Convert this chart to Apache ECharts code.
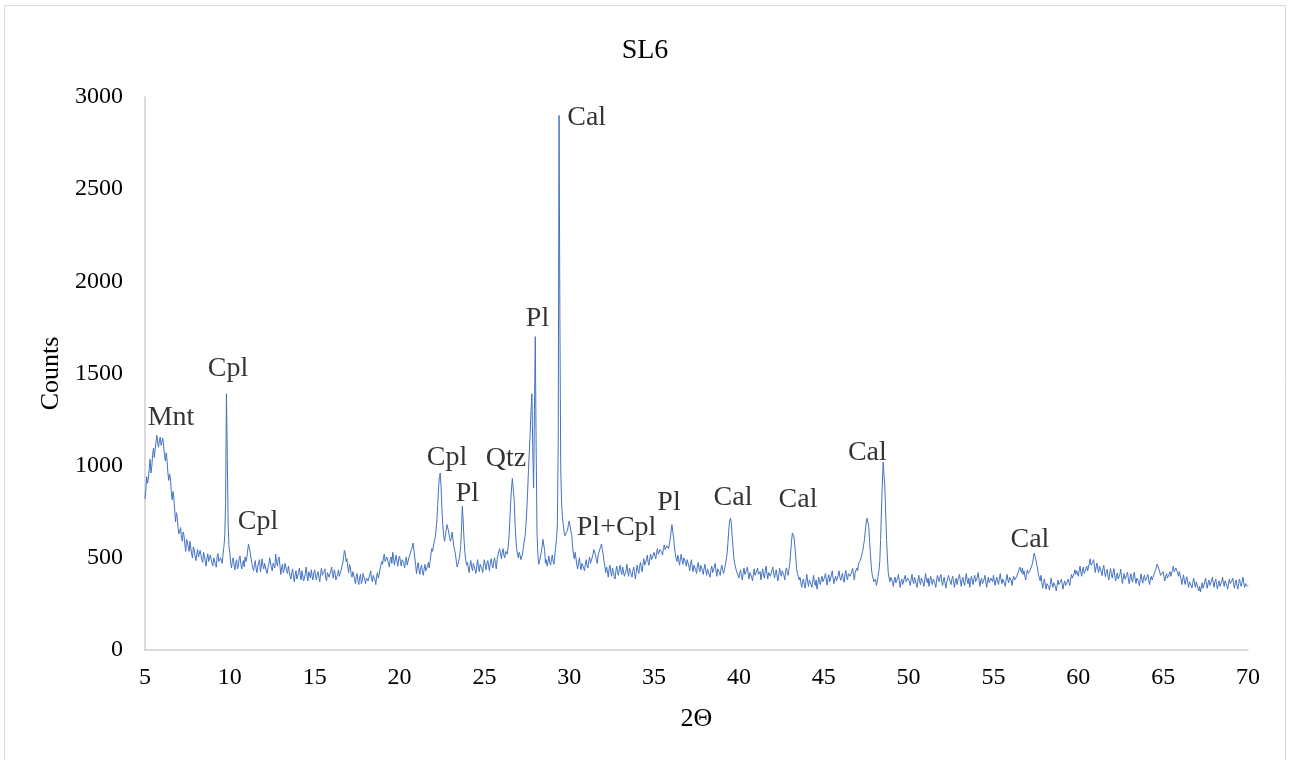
<!DOCTYPE html>
<html>
<head>
<meta charset="utf-8">
<title>SL6</title>
<script src="https://cdn.jsdelivr.net/npm/echarts@6/dist/echarts.min.js"></script>
<style>
  html, body { margin: 0; padding: 0; background: #ffffff; }
  #chart { width: 1290px; height: 760px; }
</style>
</head>
<body>
<div id="chart"></div>
<script>
// XRD scan of sample SL6: counts recorded every 0.05° 2Θ from 5° to 70°.
// Each row below holds ten steps (0.5°).
const angleStart = 5.0;
const angleStep = 0.05;

// 5.00 – 9.95
const counts05 = [
  820, 870, 940, 905, 930, 985, 1035, 960, 995, 1060,
  1095, 1045, 1090, 1130, 1165, 1120, 1100, 1140, 1155, 1110,
  1105, 1150, 1140, 1060, 1025, 1070, 1030, 960, 920, 955,
  930, 860, 815, 860, 825, 760, 695, 745, 720, 660,
  630, 640, 665, 610, 590, 640, 620, 570, 535, 600,
  585, 555, 535, 590, 580, 520, 500, 560, 545, 510,
  485, 520, 545, 505, 500, 540, 545, 490, 475, 530,
  513, 480, 455, 500, 522, 480, 470, 515, 523, 470,
  456, 500, 510, 465, 449, 505, 523, 480, 470, 500,
  510, 470, 520, 560, 620, 800, 1390, 1050, 680, 560
];
// 10.00 – 14.95
const counts10 = [
  530, 470, 445, 485, 500, 460, 435, 475, 490, 440,
  455, 495, 510, 465, 440, 470, 485, 450, 505, 480,
  500, 540, 575, 550, 530, 495, 470, 445, 430, 460,
  485, 440, 420, 455, 475, 490, 425, 450, 495, 460,
  440, 470, 480, 430, 415, 450, 465, 500, 490, 445,
  430, 470, 460, 445, 520, 480, 455, 490, 505, 460,
  410, 445, 465, 420, 435, 470, 480, 430, 415, 455,
  425, 400, 385, 420, 440, 395, 370, 410, 430, 385,
  395, 420, 445, 405, 380, 430, 420, 375, 390, 415,
  450, 400, 375, 425, 415, 390, 435, 400, 380, 420
];
// 15.00 – 19.95
const counts15 = [
  435, 400, 380, 410, 425, 395, 370, 415, 445, 405,
  400, 425, 440, 390, 375, 420, 430, 395, 385, 430,
  450, 410, 390, 435, 420, 380, 375, 410, 435, 400,
  395, 430, 450, 470, 500, 540, 525, 480, 495, 450,
  420, 465, 450, 410, 395, 425, 435, 385, 360, 400,
  415, 370, 355, 395, 410, 360, 375, 415, 425, 380,
  360, 390, 400, 375, 365, 410, 430, 385, 370, 405,
  415, 380, 355, 400, 420, 390, 410, 440, 450, 480,
  465, 500, 520, 480, 470, 505, 515, 470, 450, 490,
  505, 470, 530, 500, 460, 490, 515, 480, 455, 495
];
// 20.00 – 24.95
const counts20 = [
  510, 480, 455, 490, 500, 470, 445, 485, 505, 460,
  465, 500, 510, 490, 545, 560, 580, 540, 500, 460,
  415, 450, 475, 430, 410, 445, 460, 425, 405, 440,
  465, 430, 420, 455, 475, 445, 480, 520, 550, 535,
  565, 590, 610, 650, 700, 790, 880, 940, 960, 880,
  760, 680, 620, 590, 600, 650, 680, 670, 640, 610,
  590, 610, 640, 600, 560, 540, 515, 480, 450, 470,
  480, 510, 560, 650, 780, 700, 600, 530, 490, 460,
  475, 445, 420, 460, 485, 450, 430, 470, 465, 435,
  415, 455, 490, 450, 425, 465, 470, 440, 420, 460
];
// 25.00 – 29.95
const counts25 = [
  490, 460, 435, 470, 485, 455, 430, 475, 495, 465,
  445, 480, 500, 470, 440, 490, 515, 535, 550, 520,
  495, 530, 550, 515, 500, 535, 545, 520, 560, 610,
  700, 800, 880, 930, 925, 820, 700, 610, 550, 520,
  500, 530, 515, 490, 485, 520, 560, 590, 620, 680,
  760, 860, 980, 1080, 1180, 1300, 1390, 1100, 880, 1300,
  1700, 1100, 640, 520, 465, 480, 490, 530, 560, 600,
  610, 540, 470, 490, 455, 480, 510, 475, 460, 490,
  515, 480, 465, 510, 560, 600, 680, 1100, 2900, 1800,
  980, 800, 720, 680, 640, 620, 610, 630, 650, 680
];
// 30.00 – 34.95
const counts30 = [
  700, 710, 690, 620, 560, 520, 495, 530, 495, 460,
  440, 475, 500, 460, 435, 470, 480, 445, 430, 465,
  490, 460, 445, 480, 505, 470, 480, 500, 520, 545,
  550, 515, 490, 470, 510, 530, 540, 560, 575, 545,
  520, 480, 455, 420, 450, 430, 395, 440, 460, 420,
  400, 445, 435, 400, 385, 430, 455, 420, 405, 440,
  460, 425, 410, 450, 445, 400, 390, 430, 465, 420,
  400, 445, 440, 410, 395, 430, 450, 415, 385, 425,
  460, 430, 415, 455, 475, 440, 425, 470, 495, 460,
  450, 490, 515, 475, 460, 500, 520, 490, 480, 515
];
// 35.00 – 39.95
const counts35 = [
  530, 510, 495, 530, 550, 520, 515, 545, 555, 530,
  515, 550, 570, 545, 540, 565, 575, 550, 575, 600,
  640, 680, 675, 610, 560, 520, 495, 480, 515, 490,
  460, 495, 520, 485, 465, 500, 510, 475, 455, 490,
  480, 455, 430, 470, 490, 450, 425, 460, 470, 435,
  415, 455, 475, 440, 425, 460, 465, 430, 410, 445,
  465, 430, 405, 440, 445, 410, 395, 435, 455, 420,
  410, 450, 470, 430, 400, 440, 450, 420, 405, 445,
  460, 430, 415, 440, 460, 490, 520, 580, 650, 700,
  715, 690, 620, 560, 500, 470, 450, 430, 425, 440
];
// 40.00 – 44.95
const counts40 = [
  390, 420, 435, 400, 380, 415, 445, 410, 400, 435,
  450, 410, 385, 420, 425, 395, 375, 410, 440, 405,
  395, 430, 445, 410, 405, 425, 380, 415, 440, 405,
  390, 430, 455, 415, 385, 420, 430, 400, 395, 435,
  450, 415, 390, 420, 435, 400, 375, 410, 445, 415,
  400, 430, 440, 405, 380, 425, 445, 420, 405, 440,
  470, 530, 590, 635, 640, 610, 560, 500, 440, 415,
  400, 380, 395, 365, 340, 370, 385, 355, 335, 375,
  410, 370, 345, 380, 390, 355, 340, 375, 405, 365,
  350, 380, 330, 360, 395, 370, 355, 385, 400, 370
];
// 45.00 – 49.95
const counts45 = [
  360, 395, 415, 380, 352, 390, 408, 370, 375, 405,
  430, 390, 360, 385, 400, 375, 368, 405, 430, 395,
  378, 400, 415, 385, 367, 410, 432, 395, 380, 415,
  425, 400, 397, 425, 443, 410, 380, 420, 430, 445,
  430, 470, 465, 485, 500, 520, 540, 570, 600, 650,
  690, 715, 720, 670, 590, 520, 450, 410, 390, 370,
  360, 385, 350, 370, 400, 430, 480, 600, 760, 900,
  1020, 950, 880, 740, 600, 500, 420, 390, 370, 395,
  400, 370, 345, 380, 395, 365, 355, 390, 410, 375,
  340, 370, 385, 355, 350, 390, 405, 370, 360, 390
];
// 50.00 – 54.95
const counts50 = [
  395, 370, 350, 385, 410, 375, 360, 395, 385, 355,
  340, 380, 405, 370, 355, 390, 400, 365, 345, 380,
  415, 380, 365, 390, 345, 375, 400, 370, 355, 385,
  390, 360, 340, 380, 405, 385, 370, 395, 410, 375,
  350, 380, 395, 360, 335, 370, 385, 405, 405, 370,
  355, 385, 400, 365, 340, 375, 390, 355, 365, 395,
  410, 375, 345, 380, 395, 365, 350, 385, 415, 380,
  360, 390, 340, 370, 400, 375, 355, 390, 405, 370,
  365, 395, 420, 380, 345, 375, 390, 360, 350, 385,
  405, 370, 340, 375, 395, 365, 360, 390, 400, 370
];
// 55.00 – 59.95
const counts55 = [
  405, 375, 350, 380, 395, 370, 355, 390, 415, 380,
  360, 385, 390, 360, 345, 385, 410, 380, 365, 395,
  405, 375, 350, 385, 400, 380, 370, 395, 405, 420,
  430, 450, 455, 420, 445, 410, 430, 400, 380, 415,
  435, 415, 405, 430, 440, 455, 470, 500, 525, 505,
  490, 465, 440, 410, 395, 375, 405, 365, 335, 360,
  385, 355, 330, 360, 370, 345, 325, 355, 390, 360,
  340, 365, 375, 345, 320, 350, 380, 355, 345, 370,
  385, 355, 330, 360, 375, 350, 340, 370, 385, 365,
  350, 385, 410, 390, 385, 415, 435, 410, 430, 420
];
// 60.00 – 64.95
const counts60 = [
  400, 430, 455, 420, 400, 435, 450, 415, 415, 440,
  455, 430, 440, 470, 495, 460, 450, 475, 490, 455,
  420, 450, 472, 440, 420, 455, 462, 425, 403, 440,
  460, 420, 397, 425, 438, 400, 380, 415, 442, 410,
  390, 420, 442, 400, 375, 405, 417, 385, 375, 410,
  438, 395, 361, 390, 415, 385, 378, 405, 422, 385,
  360, 390, 414, 380, 368, 400, 422, 385, 361, 390,
  400, 370, 349, 385, 413, 380, 362, 395, 406, 375,
  365, 395, 410, 375, 355, 385, 400, 380, 395, 405,
  420, 435, 445, 465, 460, 440, 430, 405, 410, 395
];
// 65.00 – 70.00
const counts65 = [
  425, 395, 375, 400, 415, 390, 385, 410, 425, 400,
  410, 435, 455, 425, 430, 445, 450, 420, 400, 425,
  420, 385, 355, 380, 408, 375, 355, 385, 397, 365,
  340, 370, 380, 350, 337, 365, 390, 360, 340, 370,
  360, 335, 320, 345, 315, 340, 365, 335, 350, 370,
  390, 355, 335, 365, 380, 350, 345, 375, 395, 365,
  340, 370, 385, 355, 330, 360, 375, 345, 335, 370,
  395, 365, 345, 375, 380, 350, 330, 360, 385, 360,
  350, 375, 390, 360, 335, 365, 380, 350, 330, 360,
  385, 360, 345, 370, 395, 365, 340, 360, 370, 345,
  350
];

// Phase labels: [2Θ, counts, phase]
const peakLabels = [
  [6.53, 1259, 'Mnt'],
  [9.89, 1524, 'Cpl'],
  [11.66, 694, 'Cpl'],
  [22.80, 1042, 'Cpl'],
  [24.00, 846, 'Pl'],
  [26.27, 1036, 'Qtz'],
  [28.13, 1796, 'Pl'],
  [31.03, 2889, 'Cal'],
  [32.79, 662, 'Pl+Cpl'],
  [35.88, 797, 'Pl'],
  [39.65, 827, 'Cal'],
  [43.48, 816, 'Cal'],
  [47.57, 1069, 'Cal'],
  [57.15, 599, 'Cal']
];

const allCounts = [].concat(
  counts05, counts10, counts15, counts20, counts25, counts30, counts35,
  counts40, counts45, counts50, counts55, counts60, counts65
);
const pattern = allCounts.map((c, i) => [Number((angleStart + i * angleStep).toFixed(2)), c]);

const serif = "'Liberation Serif', 'Times New Roman', serif";
const axisGray = '#cfcfcf';

const chart = echarts.init(document.getElementById('chart'), null, { renderer: 'canvas' });
chart.setOption({
  backgroundColor: '#ffffff',
  animation: false,
  title: {
    text: 'SL6',
    left: 'center',
    top: 32,
    textStyle: { fontFamily: serif, fontSize: 28, fontWeight: 'normal', color: '#000000' }
  },
  graphic: [{
    type: 'rect',
    shape: { x: 4.5, y: 5.5, width: 1281, height: 800 },
    style: { fill: 'none', stroke: '#d9d9d9', lineWidth: 1 },
    silent: true
  }],
  grid: { left: 145, right: 42, top: 97, bottom: 110, containLabel: false, outerBoundsMode: 'none' },
  xAxis: {
    type: 'value',
    min: 5,
    max: 70,
    interval: 5,
    name: '2Θ',
    nameLocation: 'middle',
    nameGap: 56,
    nameTextStyle: { fontFamily: serif, fontSize: 26, color: '#000000' },
    axisLine: { show: true, lineStyle: { color: axisGray, width: 1.5 } },
    axisTick: { show: false },
    splitLine: { show: false },
    axisLabel: { fontFamily: serif, fontSize: 24, color: '#000000', margin: 16 }
  },
  yAxis: {
    type: 'value',
    min: 0,
    max: 3000,
    interval: 500,
    name: 'Counts',
    nameLocation: 'middle',
    nameGap: 66,
    nameTextStyle: { fontFamily: serif, fontSize: 26, color: '#000000' },
    axisLine: { show: true, lineStyle: { color: axisGray, width: 1.5 } },
    axisTick: { show: false },
    splitLine: { show: false },
    axisLabel: {
      fontFamily: serif, fontSize: 24, color: '#000000', margin: 22,
      formatter: v => String(v)
    }
  },
  series: [
    {
      name: 'SL6',
      type: 'line',
      data: pattern,
      showSymbol: false,
      symbol: 'none',
      sampling: null,
      lineStyle: { color: '#4472c4', width: 1 },
      silent: true,
      z: 2
    },
    {
      name: 'phases',
      type: 'scatter',
      data: peakLabels.map(p => ({ value: [p[0], p[1]], name: p[2] })),
      symbolSize: 0,
      silent: true,
      z: 3,
      label: {
        show: true,
        position: 'inside',
        formatter: p => p.name,
        fontFamily: serif,
        fontSize: 28,
        color: '#000000'
      }
    }
  ]
});
</script>
</body>
</html>
